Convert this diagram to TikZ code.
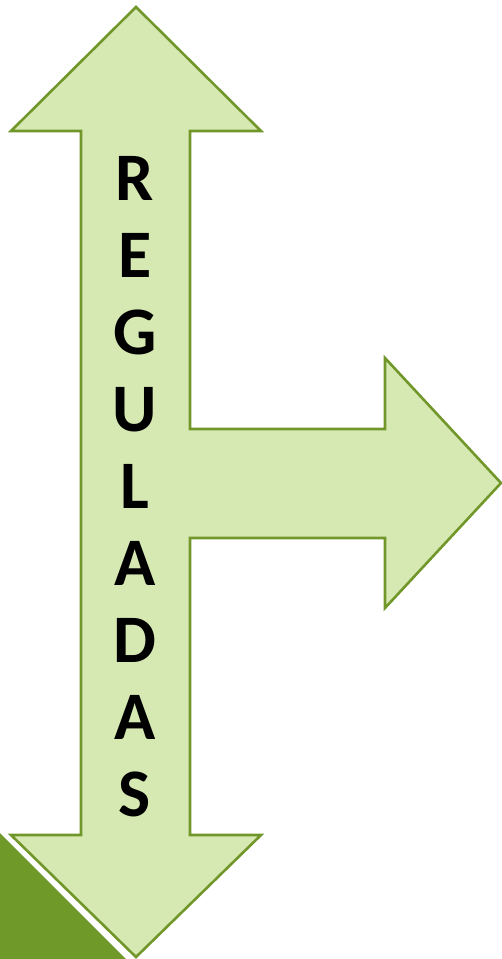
\documentclass[tikz,border=0pt]{standalone}
\usepackage{fontspec}
\setmainfont{Carlito}
\definecolor{armfill}{HTML}{D7E9B3}
\definecolor{armline}{HTML}{71962A}
\definecolor{darktri}{HTML}{6F9A2A}
\tikzset{
  letter/.style={font=\bfseries\fontsize{68}{68}\selectfont, anchor=base, inner sep=0pt, text=black},
  arrowshape/.style={fill=armfill, draw=armline, line width=2.6pt, line join=miter}
}
\begin{document}
\begin{tikzpicture}[x=1pt,y=-1pt]
\useasboundingbox (0,0) rectangle (502,959);
\fill[darktri] (0,833) -- (126,959) -- (0,959) -- cycle;
\draw[arrowshape] (136,7) -- (261,131) -- (190,131) -- (190,429) -- (385,429) -- (385,358)
  -- (501,483) -- (385,608) -- (385,538) -- (190,538) -- (190,835) -- (261,835)
  -- (136,957) -- (11,835) -- (81,835) -- (81,131) -- (11,131) -- cycle;
\foreach \t [count=\i from 0] in {R,E,G,U,L,A,D,A,S} {
  \node[letter] (l\i) at (135,{200+77.1*\i}) {\t};
}
\end{tikzpicture}
\end{document}
